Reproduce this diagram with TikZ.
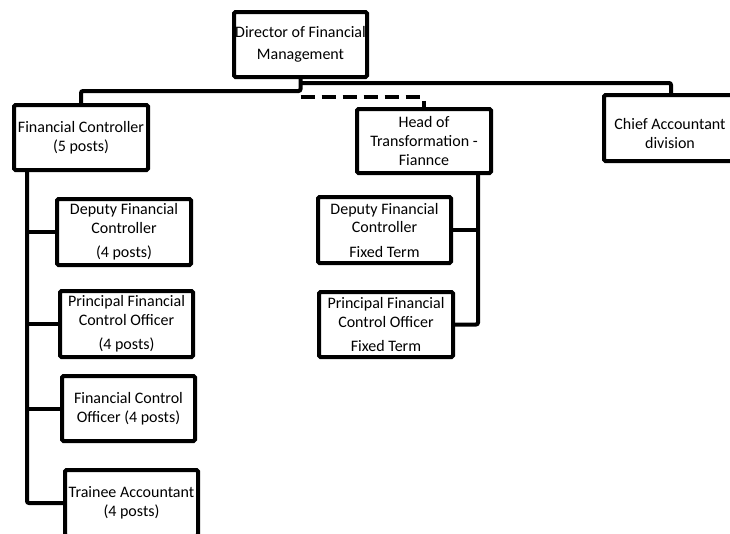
\documentclass[tikz,border=0pt]{standalone}
\usepackage{fontspec}
\setmainfont{Carlito}
\usetikzlibrary{calc}
\begin{document}
\begin{tikzpicture}[x=1pt,y=-1pt,
  box/.style={draw=black, line width=4pt, rounded corners=1.5pt, inner sep=0pt,
    align=center, font=\fontsize{16}{18.5}\selectfont, fill=white},
  txt/.style={inner sep=0pt, align=center, font=\fontsize{16}{18.5}\selectfont},
  conn/.style={draw=black, line width=4pt, rounded corners=2pt},
  dconn/.style={draw=black, line width=4pt, rounded corners=3pt, dash pattern=on 14pt off 7pt}]
\useasboundingbox (0,0) rectangle (730,533);
\clip (0,0) rectangle (730,533);
% boxes
\node[box, minimum width=133pt, minimum height=65pt] (dir) at (300.5,44.5) {Director of Financial\\[3.5pt]Management};
\node[box, minimum width=134pt, minimum height=65pt] (fc) at (81,137.5) {Financial Controller\\(5 posts)};
\node[box, minimum width=134pt, minimum height=64pt] (head) at (424,141) {Head of\\Transformation -\\Fiannce};
\node[box, minimum width=134pt, minimum height=66pt] (chief) at (671,128) {};
\node[txt] (chieft) at (670,133.5) {Chief Accountant\\division};
\node[box, minimum width=134pt, minimum height=66pt] (dfc) at (124,232) {Deputy Financial\\Controller\\[6pt](4 posts)};
\node[box, minimum width=133pt, minimum height=66pt] (pfco) at (126.5,324) {Principal Financial\\Control Officer\\[6pt](4 posts)};
\node[box, minimum width=133pt, minimum height=65pt] (fco) at (128.5,408.5) {Financial Control\\Officer (4 posts)};
\node[box, minimum width=133pt, minimum height=66pt] (tra) at (131.5,503) {Trainee Accountant\\(4 posts)};
\node[box, minimum width=133pt, minimum height=66pt] (dfcfx) at (384.5,230) {Deputy Financial\\Controller\\[6pt]Fixed Term};
\node[box, minimum width=134pt, minimum height=65pt] (pfcofx) at (386,324.5) {Principal Financial\\Control Officer\\[6pt]Fixed Term};
% connectors from the director
\coordinate (j1) at ($(dir.south)+(0,4)$);
\coordinate (j2) at ($(dir.south)+(0,12)$);
\coordinate (j3) at ($(dir.south)+(0,18)$);
\draw[conn] (dir.south) -- (j2) -| (fc.north);
\draw[conn] (j1) -| (chief.north);
\draw[dconn] (j3) -| (head.north);
% left branch
\coordinate (lv) at ($(fc.south west)+(15,0)$);
\draw[conn] (lv) |- (tra.west);
\draw[conn] (lv |- dfc.west) -- (dfc.west);
\draw[conn] (lv |- pfco.west) -- (pfco.west);
\draw[conn] (lv |- fco.west) -- (fco.west);
% middle branch
\coordinate (mv) at ($(head.south east)+(-15,0)$);
\draw[conn] (mv) |- (pfcofx.east);
\draw[conn] (mv |- dfcfx.east) -- (dfcfx.east);
\end{tikzpicture}
\end{document}
